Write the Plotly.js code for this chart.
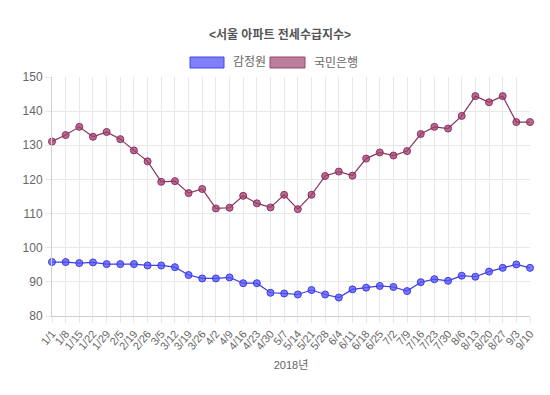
<!DOCTYPE html>
<html>
<head>
<meta charset="utf-8">
<script src="https://cdn.plot.ly/plotly-3.0.1.min.js"></script>
<style>html,body{margin:0;padding:0;background:#fff;}#chart{width:550px;height:395px;}</style>
</head>
<body>
<div id="chart"></div>
<script>
const chartTitle = '<서울 아파트 전세수급지수>';
const xAxisTitle = '2018년';
const weeks = ['1/1','1/8','1/15','1/22','1/29','2/5','2/19','2/26','3/5','3/12','3/19','3/26','4/2','4/9','4/16','4/23','4/30','5/7','5/14','5/21','5/28','6/4','6/11','6/18','6/25','7/2','7/9','7/16','7/23','7/30','8/6','8/13','8/20','8/27','9/3','9/10'];
const seriesNames = ['감정원','국민은행'];
const kabValues = [95.8,95.8,95.5,95.7,95.2,95.2,95.2,94.8,94.8,94.3,92.0,91.0,91.0,91.3,89.6,89.6,86.8,86.6,86.3,87.6,86.3,85.4,87.8,88.3,88.8,88.5,87.3,89.9,90.8,90.3,91.8,91.5,93.0,94.1,95.1,94.1];
const kbValues = [131.1,133.0,135.4,132.5,133.9,131.8,128.5,125.3,119.3,119.5,116.0,117.2,111.5,111.7,115.2,113.0,111.8,115.5,111.3,115.5,121.0,122.3,121.1,126.1,127.9,127.0,128.3,133.3,135.4,134.9,138.6,144.4,142.6,144.4,136.8,136.8];

const blueLine = 'rgb(60,60,225)';
const blueFill = 'rgba(80,80,255,0.75)';
const redLine = 'rgb(140,50,95)';
const redFill = 'rgba(160,60,110,0.75)';

function mk(name, y, line, fill) {
  return {
    type: 'scatter', mode: 'lines+markers', name: name,
    x: weeks, y: y, showlegend: false, cliponaxis: false,
    line: {color: line, width: 1.2},
    marker: {size: 7, color: fill, line: {color: line, width: 1}},
    hoverinfo: 'x+y'
  };
}

const data = [
  mk(seriesNames[0], kabValues, blueLine, blueFill),
  mk(seriesNames[1], kbValues, redLine, redFill)
];

// legend drawn as boxes (paper coords)
const L = 52, R = 20, T = 77, B = 79, W = 550, H = 395;
const pw = W - L - R, ph = H - T - B;
const px = v => (v - L) / pw;
const py = v => (H - B - v) / ph;

const shapes = [
  {type:'rect', xref:'paper', yref:'paper', x0:px(190), x1:px(224), y0:py(68), y1:py(57),
   fillcolor:'rgba(128,128,255,1)', line:{color:'rgb(70,70,220)', width:1}},
  {type:'rect', xref:'paper', yref:'paper', x0:px(270), x1:px(305), y0:py(68), y1:py(57),
   fillcolor:'rgb(189,125,157)', line:{color:'rgb(150,70,110)', width:1}}
];
const annotations = [
  {xref:'paper', yref:'paper', x:px(231), y:py(62.5), xanchor:'left', yanchor:'middle', showarrow:false,
   text:seriesNames[0], font:{size:12, color:'#666', family:'Liberation Sans, Noto Sans CJK KR, sans-serif'}},
  {xref:'paper', yref:'paper', x:px(312), y:py(62.5), xanchor:'left', yanchor:'middle', showarrow:false,
   text:seriesNames[1], font:{size:12, color:'#666', family:'Liberation Sans, Noto Sans CJK KR, sans-serif'}}
];

const layout = {
  width: W, height: H,
  margin: {l: L, r: R, t: T, b: B, pad: 0},
  paper_bgcolor: '#fff', plot_bgcolor: '#fff',
  font: {family: 'Liberation Sans, Noto Sans CJK KR, sans-serif', size: 11, color: '#666'},
  title: {text: '<b>' + chartTitle.replace('<','&lt;').replace('>','&gt;') + '</b>', x: 280 / W, xref: 'container', xanchor:'center', y: 1 - 35/H, yanchor: 'middle',
          font: {size: 12, color: '#555', family: 'Liberation Sans, Noto Sans CJK KR, sans-serif'}},
  showlegend: false,
  xaxis: {
    type: 'category', range: [0, weeks.length - 1], tickmode: 'linear', tick0: 0, dtick: 1,
    tickangle: -50, showgrid: true, gridcolor: '#e8e8e8', gridwidth: 1,
    showline: true, linecolor: '#d0d0d0', linewidth: 1, zeroline: false,
    ticks: 'outside', ticklen: 6, tickcolor: '#e8e8e8',
    tickfont: {size: 11, color: '#666'},
    title: {text: xAxisTitle, font: {size: 11, color: '#666'}, standoff: 10},
    fixedrange: true
  },
  yaxis: {
    range: [80, 150], dtick: 10, tick0: 80, showgrid: true, gridcolor: '#e8e8e8', gridwidth: 1,
    showline: true, linecolor: '#d0d0d0', linewidth: 1, zeroline: false,
    ticks: 'outside', ticklen: 6, tickcolor: '#e8e8e8',
    tickfont: {size: 12, color: '#666'}, fixedrange: true
  },
  shapes: shapes,
  annotations: annotations
};

Plotly.newPlot('chart', data, layout, {displayModeBar: false, staticPlot: true});
</script>
</body>
</html>
